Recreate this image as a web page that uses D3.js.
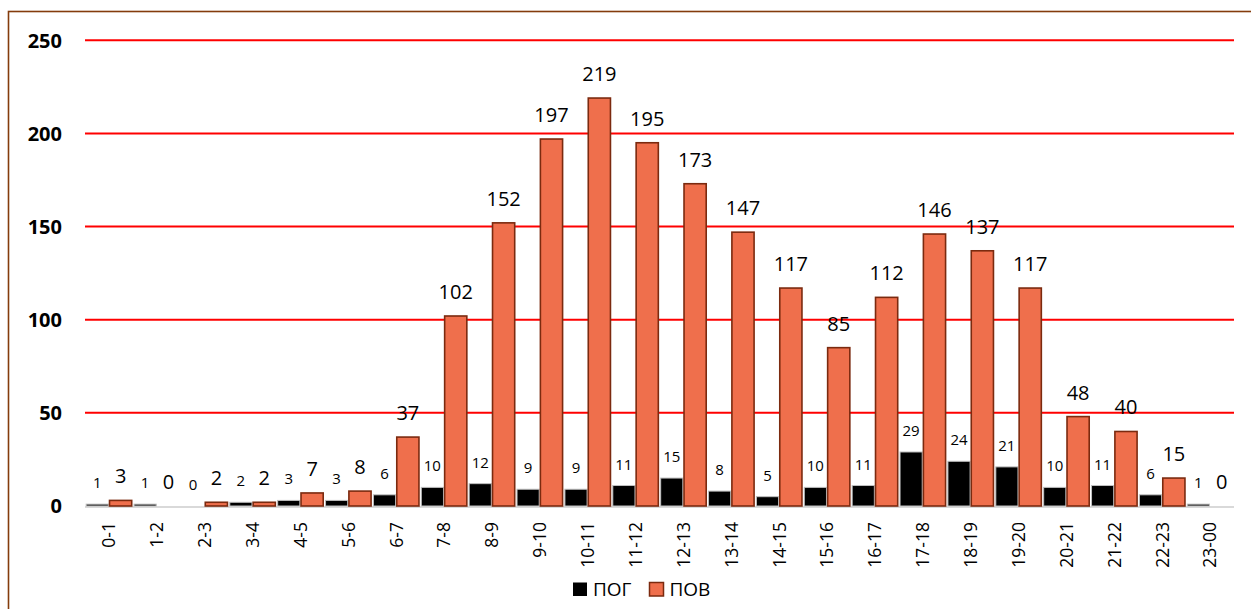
<!DOCTYPE html>
<html><head><meta charset="utf-8">
<script src="https://cdn.jsdelivr.net/npm/d3@7"></script>
<style>html,body{margin:0;padding:0;background:#fff;overflow:hidden}</style>
</head><body>
<svg id="chart" width="1251" height="609"></svg>
<script>
const categories = ["0-1","1-2","2-3","3-4","4-5","5-6","6-7","7-8","8-9","9-10","10-11","11-12","12-13","13-14","14-15","15-16","16-17","17-18","18-19","19-20","20-21","21-22","22-23","23-00"];
const seriesNames = ["ПОГ","ПОВ"];
const pogValues = [1,1,0,2,3,3,6,10,12,9,9,11,15,8,5,10,11,29,24,21,10,11,6,1];
const povValues = [3,0,2,2,7,8,37,102,152,197,219,195,173,147,117,85,112,146,137,117,48,40,15,0];
const yTicks = [0,50,100,150,200,250];

(function(){
const FONT = "'Open Sans', 'Noto Sans', sans-serif";
const svg = d3.select("#chart");
const W = 1251, H = 609;
const pLeft = 85, pRight = 1234, pTop = 40.3, pBottom = 506;

svg.append("rect").attr("x",8.5).attr("y",11.5).attr("width",W+20).attr("height",H+20)
  .attr("fill","#fff").attr("stroke","#843C0C").attr("stroke-width",1.6);

const x = d3.scaleBand().domain(categories).range([pLeft,pRight]).paddingInner(0).paddingOuter(0);
const xs = d3.scaleBand().domain(seriesNames).range([0,x.bandwidth()]).padding(0.05);
const y = d3.scaleLinear().domain([0,250]).range([pBottom,pTop]);

// gridlines
svg.append("g").selectAll("line").data(yTicks.filter(d=>d>0)).join("line")
  .attr("x1",pLeft).attr("x2",pRight).attr("y1",d=>y(d)).attr("y2",d=>y(d))
  .attr("stroke","#FF0000").attr("stroke-width",2);

// y tick labels
svg.append("g").selectAll("text").data(yTicks).join("text")
  .attr("x",62).attr("y",d=>y(d)).attr("dy","0.36em").attr("text-anchor","end")
  .attr("font-family",FONT).attr("font-weight","bold").attr("font-size",20).attr("fill","#000")
  .text(d=>d);

// axis baseline
svg.append("line").attr("x1",pLeft).attr("x2",pRight).attr("y1",pBottom+1).attr("y2",pBottom+1)
  .attr("stroke","#D9D9D9").attr("stroke-width",2);

const rows = categories.map((c,i)=>({c, pog:pogValues[i], pov:povValues[i]}));

// ПОГ bars
svg.append("g").selectAll("rect").data(rows).join("rect")
  .attr("x",d=>x(d.c)+xs("ПОГ")).attr("width",xs.bandwidth())
  .attr("y",d=>y(d.pog)).attr("height",d=>y(0)-y(d.pog))
  .attr("fill","#000").attr("stroke","#BFBFBF").attr("stroke-width",1)
  .attr("display",d=>d.pog>0?null:"none");

// ПОВ bars
svg.append("g").selectAll("rect").data(rows).join("rect")
  .attr("x",d=>x(d.c)+xs("ПОВ")).attr("width",xs.bandwidth())
  .attr("y",d=>y(d.pov)).attr("height",d=>y(0)-y(d.pov))
  .attr("fill","#EF6F4C").attr("stroke","#7B2A0F").attr("stroke-width",1.6)
  .attr("display",d=>d.pov>0?null:"none");

// labels ПОГ
svg.append("g").selectAll("text").data(rows).join("text")
  .attr("x",d=>x(d.c)+xs("ПОГ")+xs.bandwidth()/2).attr("y",d=>y(d.pog)-16)
  .attr("text-anchor","middle").attr("font-family",FONT).attr("font-size",15).attr("fill","#000")
  .text(d=>d.pog);

// labels ПОВ
svg.append("g").selectAll("text").data(rows).join("text")
  .attr("x",d=>x(d.c)+xs("ПОВ")+xs.bandwidth()/2).attr("y",d=>y(d.pov)-17)
  .attr("text-anchor","middle").attr("font-family",FONT).attr("font-size",20).attr("fill","#000")
  .text(d=>d.pov);

// x labels
svg.append("g").selectAll("text").data(categories).join("text")
  .attr("transform",d=>`translate(${x(d)+x.bandwidth()/2},522) rotate(-90)`)
  .attr("dy","0.36em").attr("text-anchor","end")
  .attr("font-family",FONT).attr("font-size",17.5).attr("fill","#000")
  .text(d=>d);

// legend
const lg = svg.append("g");
const legendItems = [
  {name:"ПОГ", x:573, fill:"#000", stroke:"none"},
  {name:"ПОВ", x:649.5, fill:"#EF6F4C", stroke:"#7B2A0F"}
];
legendItems.forEach(it=>{
  lg.append("rect").attr("x",it.x).attr("y",582.5).attr("width",14).attr("height",13.5)
    .attr("fill",it.fill).attr("stroke",it.stroke).attr("stroke-width",1.5);
  lg.append("text").attr("x",it.x+20).attr("y",596).attr("font-family",FONT).attr("font-size",19)
    .attr("fill","#000").text(it.name);
});
})();
</script>
</body></html>
